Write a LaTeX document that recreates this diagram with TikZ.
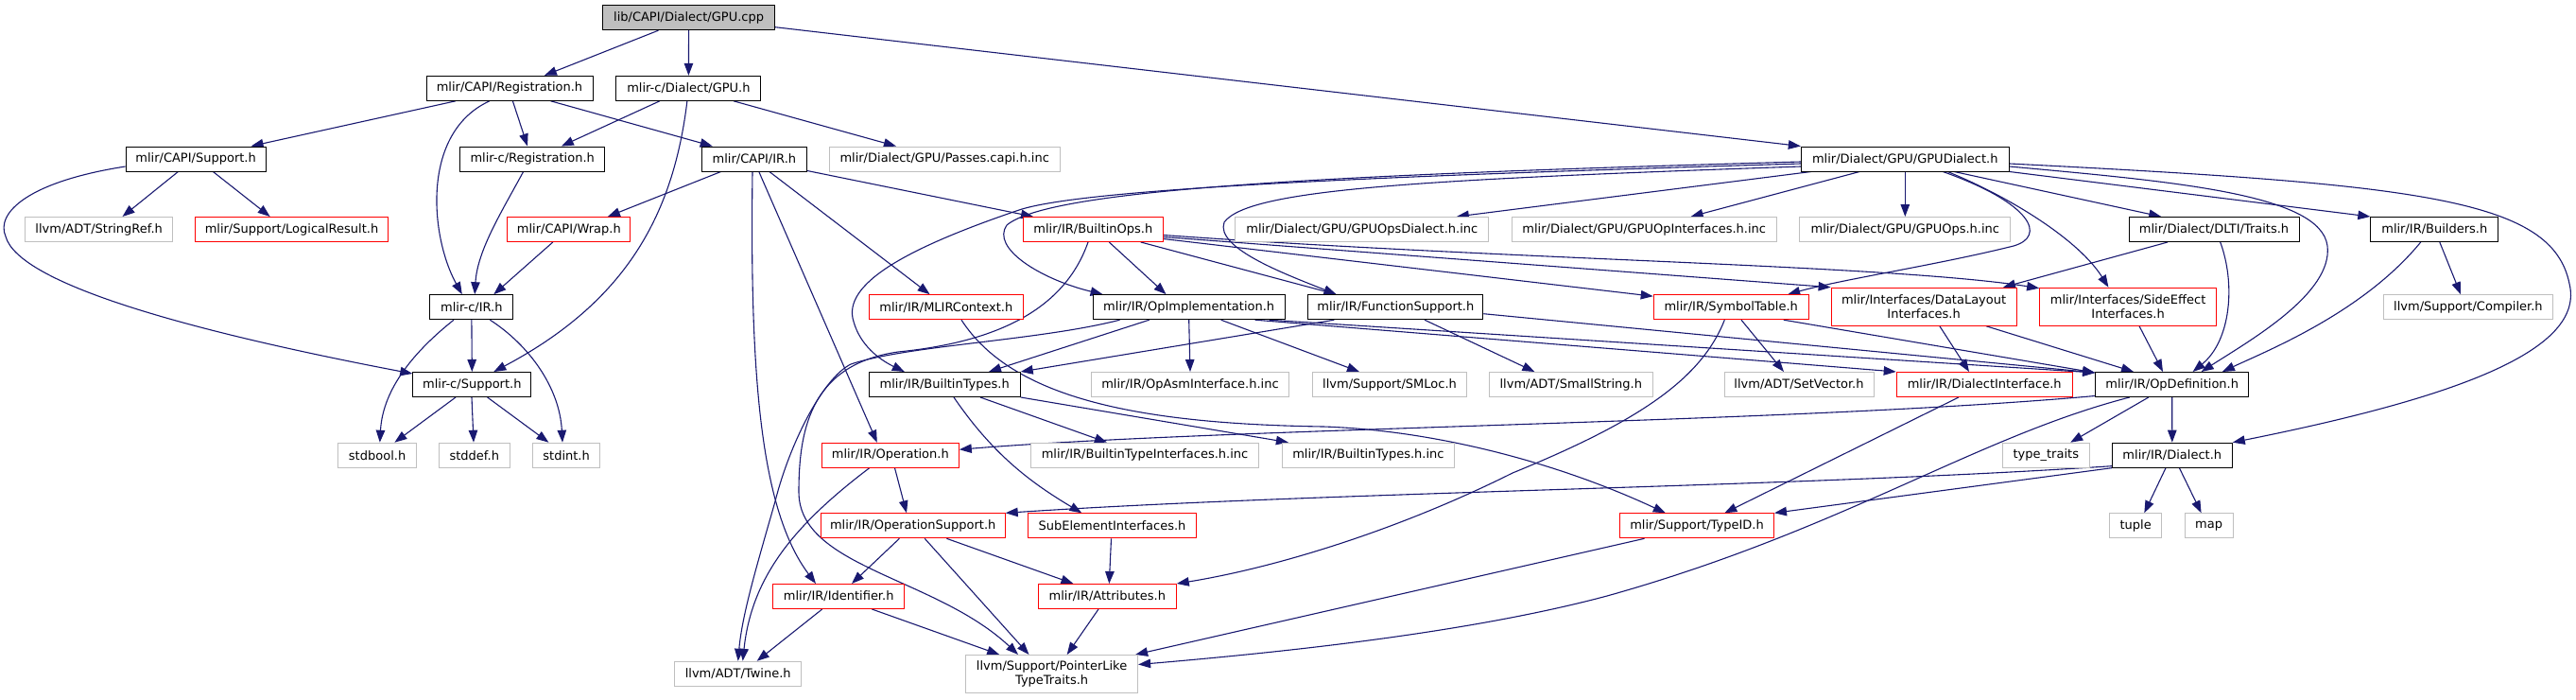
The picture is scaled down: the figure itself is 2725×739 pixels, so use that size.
\documentclass[tikz,border=0pt]{standalone}
\usepackage{fontspec}
\setmainfont{DejaVu Sans}
\usetikzlibrary{arrows.meta,calc,backgrounds}
\definecolor{midnight}{HTML}{191970}
\definecolor{grey75}{HTML}{BFBFBF}
\begin{document}
\begin{tikzpicture}[x=1pt,y=-1pt,
  box/.style={draw, line width=1pt, minimum height=26pt, inner sep=0pt, fill=white, text=black, font=\fontsize{13}{14.7}\selectfont},
  doc/.style={box, draw=black},
  trunc/.style={box, draw=red},
  trunctwo/.style={box, draw=red, minimum height=40pt, align=center},
  ext/.style={box, draw=grey75},
  exttwo/.style={box, draw=grey75, minimum height=40pt, align=center},
  root/.style={box, draw=black, fill=grey75},
  edg/.style={draw=midnight, line width=1.1pt, -{Triangle[length=13pt,width=9.5pt]}}]
\useasboundingbox (0,0) rectangle (2725,739);
% row 0
\node[root,minimum width=182] (gpucpp) at (728.6,18.7) {lib/CAPI/Dialect/GPU.cpp};
% row 1
\node[doc,minimum width=176] (capireg) at (539,93.3) {mlir/CAPI/Registration.h};
\node[doc,minimum width=153] (cgpu) at (728.4,93.3) {mlir-c/Dialect/GPU.h};
% row 2
\node[doc,minimum width=148] (capisup) at (207.1,168) {mlir/CAPI/Support.h};
\node[doc,minimum width=153] (creg) at (563.2,168) {mlir-c/Registration.h};
\node[doc,minimum width=111] (capiir) at (797.9,168) {mlir/CAPI/IR.h};
\node[ext,minimum width=244] (passes) at (999.2,168) {mlir/Dialect/GPU/Passes.capi.h.inc};
\node[doc,minimum width=220] (gpudialect) at (2015.3,168) {mlir/Dialect/GPU/GPUDialect.h};
% row 3
\node[ext,minimum width=156] (stringref) at (104.7,242.5) {llvm/ADT/StringRef.h};
\node[trunc,minimum width=204] (logical) at (308.5,242.5) {mlir/Support/LogicalResult.h};
\node[trunc,minimum width=130] (wrap) at (601.8,242.5) {mlir/CAPI/Wrap.h};
\node[trunc,minimum width=148] (builtinops) at (1156.3,242.5) {mlir/IR/BuiltinOps.h};
\node[ext,minimum width=268] (opsdialect) at (1440.8,242.5) {mlir/Dialect/GPU/GPUOpsDialect.h.inc};
\node[ext,minimum width=280] (opinterfaces) at (1739.2,242.5) {mlir/Dialect/GPU/GPUOpInterfaces.h.inc};
\node[ext,minimum width=223] (gpuops) at (2015.3,242.5) {mlir/Dialect/GPU/GPUOps.h.inc};
\node[doc,minimum width=180] (traits) at (2342,242.5) {mlir/Dialect/DLTI/Traits.h};
\node[doc,minimum width=135] (builders) at (2575.3,242.5) {mlir/IR/Builders.h};
% row 4
\node[doc,minimum width=88] (cir) at (498.9,324.7) {mlir-c/IR.h};
\node[trunc,minimum width=163] (mlircontext) at (1000.8,324.7) {mlir/IR/MLIRContext.h};
\node[doc,minimum width=203] (opimpl) at (1257.7,324.7) {mlir/IR/OpImplementation.h};
\node[doc,minimum width=185] (funcsupport) at (1476.3,324.7) {mlir/IR/FunctionSupport.h};
\node[trunc,minimum width=164] (symtable) at (1831.2,324.7) {mlir/IR/SymbolTable.h};
\node[trunctwo,minimum width=196] (datalayout) at (2035.1,324.2) {mlir/Interfaces/DataLayout\\Interfaces.h};
\node[trunctwo,minimum width=187] (sideeffect) at (2251.1,324.2) {mlir/Interfaces/SideEffect\\Interfaces.h};
\node[ext,minimum width=179] (compiler) at (2610.9,324.7) {llvm/Support/Compiler.h};
% row 5
\node[doc,minimum width=125] (csupport) at (499.3,406.5) {mlir-c/Support.h};
\node[doc,minimum width=160] (builtintypes) at (999.2,406.5) {mlir/IR/BuiltinTypes.h};
\node[ext,minimum width=209] (opasm) at (1259,406.5) {mlir/IR/OpAsmInterface.h.inc};
\node[ext,minimum width=163] (smloc) at (1470,406.5) {llvm/Support/SMLoc.h};
\node[ext,minimum width=173] (smallstring) at (1661.8,406.5) {llvm/ADT/SmallString.h};
\node[ext,minimum width=158] (setvector) at (1903,406.5) {llvm/ADT/SetVector.h};
\node[trunc,minimum width=186] (dialectiface) at (2099.2,406.5) {mlir/IR/DialectInterface.h};
\node[doc,minimum width=162] (opdef) at (2297.7,406.5) {mlir/IR/OpDefinition.h};
% row 6
\node[ext,minimum width=83] (stdbool) at (399.1,481.2) {stdbool.h};
\node[ext,minimum width=75] (stddef) at (501.8,481.2) {stddef.h};
\node[ext,minimum width=71] (stdint) at (599.1,481.2) {stdint.h};
\node[trunc,minimum width=145] (operation) at (941.8,481.2) {mlir/IR/Operation.h};
\node[ext,minimum width=241] (btinterfaces) at (1211,481.2) {mlir/IR/BuiltinTypeInterfaces.h.inc};
\node[ext,minimum width=182] (btinc) at (1447.4,481.2) {mlir/IR/BuiltinTypes.h.inc};
\node[ext,minimum width=92] (typetraits) at (2164.3,481.2) {type\_traits};
\node[doc,minimum width=127] (dialect) at (2297.8,481.2) {mlir/IR/Dialect.h};
% row 7
\node[trunc,minimum width=195] (opsupport) at (965.7,555.8) {mlir/IR/OperationSupport.h};
\node[trunc,minimum width=178] (subelement) at (1176.5,555.8) {SubElementInterfaces.h};
\node[trunc,minimum width=163] (typeid) at (1795,555.8) {mlir/Support/TypeID.h};
\node[ext,minimum width=55] (tuplenode) at (2259.2,555.8) {tuple};
\node[ext,minimum width=51] (mapnode) at (2336.6,555.8) {map};
% row 8
\node[trunc,minimum width=139] (identifier) at (887.2,630.5) {mlir/IR/Identifier.h};
\node[trunc,minimum width=146] (attributes) at (1171.3,630.5) {mlir/IR/Attributes.h};
% row 9
\node[ext,minimum width=134] (twine) at (780.7,712.3) {llvm/ADT/Twine.h};
\node[exttwo,minimum width=182] (pointerlike) at (1112.6,712.5) {llvm/Support/PointerLike\\TypeTraits.h};

\begin{scope}[on background layer]
% GPU.cpp
\draw[edg] ($(gpucpp.south)+(-32.2,0)$) -- ($(capireg.north)+(36.9,0)$);
\draw[edg] (gpucpp.south) -- (cgpu.north);
\draw[edg] ($(gpucpp.east)+(0,10)$) -- (gpudialect.north west);
% CAPI/Registration.h
\draw[edg] ($(capireg.south)+(-57,0)$) -- ($(capisup.north)+(58.5,0)$);
\draw[edg] ($(capireg.south)+(-21.1,0)$) .. controls (445,140) and (455,250) .. ($(cir.north)+(-10.1,0)$);
\draw[edg] ($(capireg.south)+(3.4,0)$) -- ($(creg.north)+(-5.2,0)$);
\draw[edg] ($(capireg.south)+(43.6,0)$) -- ($(capiir.north)+(-44.2,0)$);
% mlir-c/Dialect/GPU.h
\draw[edg] ($(cgpu.south)+(-30.5,0)$) -- ($(creg.north)+(30.6,0)$);
\draw[edg] ($(cgpu.south)+(-1.5,0)$) .. controls (712,230) and (660,320) .. ($(csupport.north)+(23,0)$);
\draw[edg] ($(cgpu.south)+(47.6,0)$) -- ($(passes.north)+(-51.3,0)$);
% CAPI/Support.h
\draw[edg] ($(capisup.south)+(-18.7,0)$) -- ($(stringref.north)+(24.8,0)$);
\draw[edg] ($(capisup.south)+(18.3,0)$) -- ($(logical.north)+(-22.8,0)$);
\draw[edg] ($(capisup.west)+(0,8)$) .. controls (30,192) and (-5,225) .. (6,250) .. controls (20,300) and (200,350) .. ($(csupport.north west)+(0,2)$);
% mlir-c/Registration.h, CAPI/IR.h, Wrap.h
\draw[edg] ($(creg.south)+(-9.6,0)$) .. controls (530,225) and (505,265) .. ($(cir.north)+(3.3,0)$);
\draw[edg] ($(capiir.south)+(-35.3,0)$) -- ($(wrap.north)+(41.1,0)$);
\draw[edg] ($(wrap.south)+(-17,0)$) -- ($(cir.north)+(23.4,0)$);
\draw[edg] ($(capiir.south east)+(0,-1)$) -- ($(builtinops.north)+(-63.3,0)$);
\draw[edg] ($(capiir.south)+(16,0)$) -- ($(mlircontext.north)+(-17.2,0)$);
\draw[edg] ($(capiir.south)+(4.9,0)$) -- ($(operation.north)+(-14,0)$);
\draw[edg] ($(capiir.south)+(-1.9,0)$) .. controls (793,400) and (805,540) .. ($(identifier.north)+(-24.2,0)$);
% mlir-c/IR.h, mlir-c/Support.h
\draw[edg] ($(cir.south)+(-18.9,0)$) .. controls (440,370) and (405,410) .. ($(stdbool.north)+(2.7,0)$);
\draw[edg] (cir.south) -- (csupport.north);
\draw[edg] ($(cir.south)+(19.4,0)$) .. controls (560,365) and (592,410) .. ($(stdint.north)+(-4.1,0)$);
\draw[edg] ($(csupport.south)+(-17.3,0)$) -- ($(stdbool.north)+(18.3,0)$);
\draw[edg] ($(csupport.south)+(-0.3,0)$) -- ($(stddef.north)+(-0.8,0)$);
\draw[edg] ($(csupport.south)+(16.3,0)$) -- ($(stdint.north)+(-18.7,0)$);
% GPUDialect.h
\draw[edg] ($(gpudialect.south)+(-99.5,0)$) -- ($(opsdialect.north)+(100,0)$);
\draw[edg] ($(gpudialect.south)+(-48.2,0)$) -- ($(opinterfaces.north)+(49.4,0)$);
\draw[edg] (gpudialect.south) -- (gpuops.north);
\draw[edg] ($(gpudialect.south)+(52,0)$) -- ($(traits.north)+(-55.8,0)$);
\draw[edg] (gpudialect.south east) -- (builders.north west);
\draw[edg] ($(gpudialect.east)+(0,8)$) .. controls (2300,192) and (2455,205) .. (2462,260) .. controls (2468,310) and (2380,360) .. ($(opdef.north)+(30.9,0)$);
\draw[edg] ($(gpudialect.east)+(0,5)$) .. controls (2560,195) and (2700,210) .. (2718,300) .. controls (2735,370) and (2600,420) .. (dialect.north east);
\draw[edg] ($(gpudialect.south)+(45,0)$) .. controls (2130,210) and (2200,255) .. ($(sideeffect.north)+(-20.7,0)$);
\draw[edg] ($(gpudialect.south)+(40,0)$) .. controls (2150,215) and (2165,250) .. (2130,260) .. controls (2050,280) and (1950,295) .. ($(symtable.north)+(60,0)$);
\draw[edg] ($(gpudialect.west)+(0,3)$) .. controls (1400,185) and (1110,200) .. (1065,238) .. controls (1048,262) and (1100,295) .. ($(opimpl.north)+(-91.1,0)$);
\draw[edg] ($(gpudialect.west)+(0,5)$) .. controls (1500,185) and (1150,198) .. (1078,222) .. controls (960,262) and (890,300) .. (903,340) .. controls (910,365) and (930,380) .. ($(builtintypes.north)+(-42.4,0)$);
\draw[edg] ($(gpudialect.west)+(0,8)$) .. controls (1500,190) and (1320,200) .. (1295,235) .. controls (1285,262) and (1360,290) .. ($(funcsupport.north)+(-62.7,0)$);
% BuiltinOps.h
\draw[edg] ($(builtinops.south)+(17,0)$) -- ($(opimpl.north)+(-24.1,0)$);
\draw[edg] ($(builtinops.south)+(-5.3,0)$) .. controls (1125,330) and (1050,362) .. (950,372) .. controls (860,385) and (845,450) .. (845,520) .. controls (845,600) and (990,610) .. ($(pointerlike.north)+(-35.6,0)$);
\draw[edg] ($(builtinops.south)+(50.5,0)$) -- ($(funcsupport.north)+(-62.7,0)$);
\draw[edg] ($(builtinops.east)+(0,10)$) -- ($(symtable.north west)+(0,2)$);
\draw[edg] ($(builtinops.east)+(0,8)$) -- (datalayout.north west);
\draw[edg] ($(builtinops.east)+(0,6)$) .. controls (1600,275) and (2000,280) .. ($(sideeffect.north west)+(0,1)$);
% MLIRContext.h
\draw[edg] ($(mlircontext.south)+(16.2,0)$) .. controls (1070,420) and (1200,448) .. (1400,451) .. controls (1520,455) and (1650,490) .. ($(typeid.north)+(-33.2,0)$);
% OpImplementation.h
\draw[edg] ($(opimpl.south)+(-42,0)$) -- ($(builtintypes.north)+(46.8,0)$);
\draw[edg] (opimpl.south) -- (opasm.north);
\draw[edg] ($(opimpl.south)+(33.9,0)$) -- ($(smloc.north)+(-32,0)$);
\draw[edg] ($(opimpl.south)+(70,0)$) -- (dialectiface.north west);
\draw[edg] ($(opimpl.south)+(85,0)$) -- ($(opdef.north west)+(0,1)$);
\draw[edg] ($(opimpl.south)+(-73.2,0)$) .. controls (1100,360) and (960,365) .. (900,385) .. controls (870,400) and (835,470) .. (820,530) .. controls (800,600) and (785,650) .. (twine.north);
% FunctionSupport.h
\draw[edg] ($(funcsupport.south)+(-65,0)$) -- (builtintypes.north east);
\draw[edg] ($(funcsupport.south)+(30.7,0)$) -- ($(smallstring.north)+(-38.4,0)$);
\draw[edg] ($(funcsupport.east)+(0,7)$) -- ($(opdef.north west)+(0,1)$);
% SymbolTable.h
\draw[edg] ($(symtable.south)+(10.8,0)$) -- ($(setvector.north)+(-16,0)$);
\draw[edg] ($(symtable.south)+(-6.9,0)$) .. controls (1800,400) and (1735,445) .. (1600,500) .. controls (1480,560) and (1350,600) .. (attributes.north east);
\draw[edg] ($(symtable.south)+(55.6,0)$) -- ($(opdef.north west)+(0,1)$);
% interfaces, traits, builders
\draw[edg] ($(datalayout.south)+(16.7,0)$) -- ($(dialectiface.north)+(-16.2,0)$);
\draw[edg] ($(datalayout.south)+(65.8,0)$) -- ($(opdef.north)+(-40.7,0)$);
\draw[edg] ($(sideeffect.south)+(11.9,0)$) -- ($(opdef.north)+(-9.7,0)$);
\draw[edg] ($(traits.south)+(-49,0)$) -- ($(datalayout.north)+(83.9,0)$);
\draw[edg] ($(traits.south)+(6.7,0)$) .. controls (2365,300) and (2360,360) .. ($(opdef.north)+(21.9,0)$);
\draw[edg] ($(builders.south)+(5.5,0)$) -- ($(compiler.north)+(-7.9,0)$);
\draw[edg] ($(builders.south)+(-14.6,0)$) .. controls (2500,330) and (2400,370) .. ($(opdef.north)+(53.2,0)$);
\draw[edg] ($(dialectiface.south)+(-27.3,0)$) -- ($(typeid.north)+(29.3,0)$);
% OpDefinition.h
\draw[edg] ($(opdef.west)+(0,12)$) .. controls (1900,447) and (1300,452) .. ($(operation.east)+(0,-6)$);
\draw[edg] ($(opdef.south)+(-24.9,0)$) -- ($(typetraits.north)+(25.9,0)$);
\draw[edg] (opdef.south) -- (dialect.north);
\draw[edg] ($(opdef.south)+(-45,0)$) .. controls (2090,462) and (1950,560) .. (1700,630) .. controls (1550,670) and (1350,690) .. ($(pointerlike.east)+(0,-10)$);
% Dialect.h
\draw[edg] ($(dialect.south)+(-6.8,0)$) -- ($(tuplenode.north)+(9.1,0)$);
\draw[edg] ($(dialect.south)+(7.6,0)$) -- ($(mapnode.north)+(-8,0)$);
\draw[edg] ($(dialect.south west)+(0,-2)$) .. controls (1900,515) and (1400,520) .. (opsupport.north east);
\draw[edg] (dialect.south west) -- (typeid.north east);
% TypeID.h
\draw[edg] ($(typeid.south)+(-55.5,0)$) -- ($(pointerlike.north east)+(-3,0)$);
% Operation.h, OperationSupport.h
\draw[edg] ($(operation.south)+(4.7,0)$) -- ($(opsupport.north)+(-6.7,0)$);
\draw[edg] ($(operation.south)+(-22.1,0)$) .. controls (840,555) and (795,610) .. ($(twine.north)+(5,0)$);
\draw[edg] ($(opsupport.south)+(-14.3,0)$) -- ($(identifier.north)+(13.8,0)$);
\draw[edg] ($(opsupport.south)+(12.5,0)$) -- ($(pointerlike.north)+(-24.1,0)$);
\draw[edg] ($(opsupport.south)+(35.7,0)$) -- ($(attributes.north)+(-35.9,0)$);
\draw[edg] ($(subelement.south)+(-1,0)$) -- ($(attributes.north)+(2,0)$);
% BuiltinTypes.h
\draw[edg] ($(builtintypes.south)+(9.8,0)$) .. controls (1050,480) and (1090,510) .. ($(subelement.north)+(-32.2,0)$);
\draw[edg] ($(builtintypes.south)+(37.8,0)$) -- ($(btinterfaces.north)+(-40,0)$);
\draw[edg] (builtintypes.south east) -- ($(btinc.north west)+(7,0)$);
% Identifier.h, Attributes.h
\draw[edg] ($(identifier.south)+(-17.5,0)$) -- ($(twine.north)+(20,0)$);
\draw[edg] ($(identifier.south)+(35.2,0)$) -- ($(pointerlike.north)+(-55.4,0)$);
\draw[edg] ($(attributes.south)+(-9.3,0)$) -- ($(pointerlike.north)+(16.1,0)$);
\end{scope}
\end{tikzpicture}
\end{document}
